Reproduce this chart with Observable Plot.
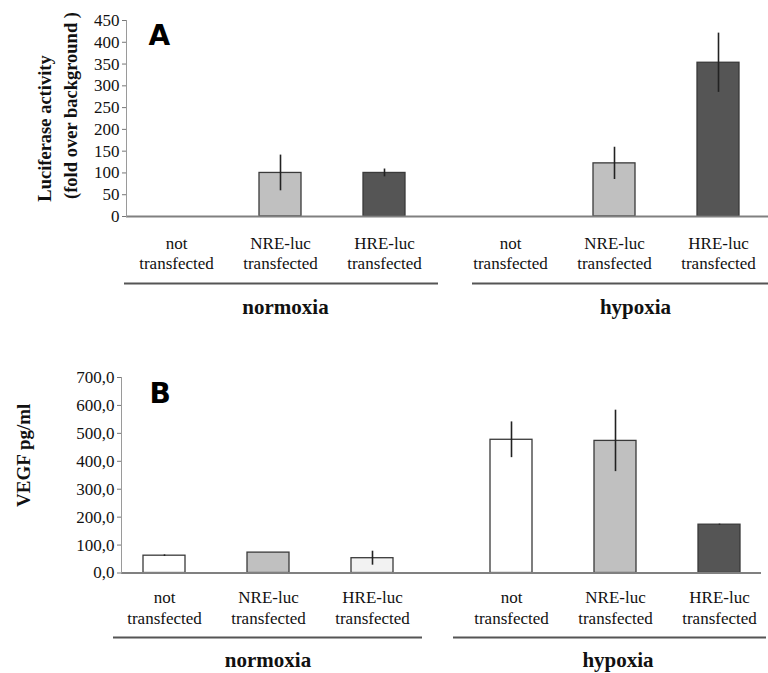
<!DOCTYPE html>
<html><head><meta charset="utf-8">
<script src="https://cdn.jsdelivr.net/npm/d3@7"></script>
<script src="https://cdn.jsdelivr.net/npm/@observablehq/plot@0.6"></script>
<style>
html,body{margin:0;padding:0;background:#fff;}
#chart{width:768px;}
#chart svg{display:block;}
</style></head><body><div id="chart"></div>
<script>
// ---- data ----
const conditions = ["normoxia", "hypoxia"];
const categories = ["not", "NRE", "HRE"];
const categoryLabels = ["not\ntransfected", "NRE-luc\ntransfected", "HRE-luc\ntransfected"];

const lucNormoxia = [0, 100, 100];
const lucNormoxiaErr = [0, 41, 9];
const lucHypoxia = [0, 122, 353];
const lucHypoxiaErr = [0, 37, 68];
const lucTicks = [0, 50, 100, 150, 200, 250, 300, 350, 400, 450];

const vegfNormoxia = [62, 73, 53];
const vegfNormoxiaErr = [3, 0, 25];
const vegfHypoxia = [477, 473, 173];
const vegfHypoxiaErr = [64, 110, 2];
const vegfTicks = [0, 100, 200, 300, 400, 500, 600, 700];

// ---- styles (kept apart from data) ----
const fillA = {"normoxia|NRE": "#c0c0c0", "normoxia|HRE": "#555555", "hypoxia|NRE": "#c0c0c0", "hypoxia|HRE": "#555555"};
const fillB = {"normoxia|not": "#ffffff", "normoxia|NRE": "#c0c0c0", "normoxia|HRE": "#f2f2f2",
               "hypoxia|not": "#ffffff", "hypoxia|NRE": "#c0c0c0", "hypoxia|HRE": "#555555"};
const labelOf = Object.fromEntries(categories.map((c, i) => [c, categoryLabels[i]]));

function rows(norm, normErr, hyp, hypErr) {
  const out = [];
  [[norm, normErr], [hyp, hypErr]].forEach(([v, e], i) =>
    categories.forEach((c, j) => out.push({cond: conditions[i], cat: c, value: v[j], err: e[j]})));
  return out;
}
const dataA = rows(lucNormoxia, lucNormoxiaErr, lucHypoxia, lucHypoxiaErr);
const dataB = rows(vegfNormoxia, vegfNormoxiaErr, vegfHypoxia, vegfHypoxiaErr);

const serif = "'Liberation Serif', 'Times New Roman', serif";
const ink = "#111";

function panel(o) {
  const one = (cond, extra) => [{cond, ...extra}];
  return Plot.plot({
    width: 768,
    height: o.height,
    marginTop: o.marginTop,
    marginBottom: o.marginBottom,
    marginLeft: o.marginLeft,
    marginRight: o.marginRight,
    style: {fontFamily: serif, fontSize: "17px", color: ink, background: "#fff"},
    fx: {domain: conditions, paddingInner: o.fxPad, paddingOuter: 0, axis: null, label: null},
    x: {domain: categories, paddingInner: 0.6, paddingOuter: o.xPadOuter, label: null},
    y: {domain: [0, o.yMax], label: null},
    color: {type: "identity"},
    marks: [
      Plot.barY(o.data.filter(d => d.value > 0), {
        fx: "cond", x: "cat", y: "value",
        fill: d => o.fills[d.cond + "|" + d.cat], stroke: "#3a3a3a", strokeWidth: 1.3
      }),
      Plot.ruleX(o.data.filter(d => d.err > 0), {
        fx: "cond", x: "cat", y1: d => d.value - d.err, y2: d => d.value + d.err,
        stroke: "#222", strokeWidth: 1.6
      }),
      // baseline (continuous across the gap between groups)
      Plot.ruleY(one("normoxia"), {fx: "cond", y: () => 0, insetRight: -o.gap, stroke: "#808080", strokeWidth: 2}),
      Plot.ruleY(one("hypoxia"), {fx: "cond", y: () => 0, stroke: "#808080", strokeWidth: 2}),
      // y axis
      Plot.frame({anchor: "left", facetAnchor: "left", stroke: "#9a9a9a", strokeWidth: 1}),
      Plot.axisY({ticks: o.ticks, tickFormat: o.fmt, tickSize: 4, tickPadding: 3, stroke: "#777", fill: ink, fontSize: o.tickFont, fontFamily: serif, label: null}),
      // category labels
      Plot.axisX({tickSize: 0, tickPadding: o.catPad, tickFormat: c => labelOf[c], lineHeight: 1.2, fill: ink, fontSize: 17, fontFamily: serif, label: null}),
      // group underline
      Plot.ruleY(one("normoxia"), {fx: "cond", y: () => 0, dy: o.lineDy, insetLeft: o.normInset[0], insetRight: o.normInset[1], stroke: "#555", strokeWidth: 2}),
      Plot.ruleY(one("hypoxia"), {fx: "cond", y: () => 0, dy: o.lineDy, insetLeft: o.hypInset[0], insetRight: o.hypInset[1], stroke: "#555", strokeWidth: 2}),
      // group labels
      Plot.text(one("normoxia", {t: "normoxia"}), {fx: "cond", text: "t", frameAnchor: "bottom", dy: o.groupDy, dx: o.groupDx[0], fontSize: 21, fontWeight: "bold", fontFamily: serif, lineAnchor: "middle", fill: ink}),
      Plot.text(one("hypoxia", {t: "hypoxia"}), {fx: "cond", text: "t", frameAnchor: "bottom", dy: o.groupDy, dx: o.groupDx[1], fontSize: 21, fontWeight: "bold", fontFamily: serif, lineAnchor: "middle", fill: ink}),
      // panel letter
      Plot.text(one("normoxia", {t: o.letter}), {fx: "cond", text: "t", frameAnchor: "top-left", dx: o.letterDx, dy: o.letterDy, textAnchor: "start", lineAnchor: "top", fontSize: 28, fontWeight: "bold", fontFamily: "'DejaVu Sans', 'Liberation Sans', sans-serif", fill: "#000"}),
      // y titles
      ...o.titles.map(t => Plot.text(one("normoxia", {t: t.text}), {fx: "cond", text: "t", frameAnchor: "left", rotate: -90, dx: t.dx, dy: t.dy, textAnchor: "middle", lineAnchor: "middle", fontSize: t.size, fontWeight: "bold", fontFamily: serif, fill: ink}))
    ]
  });
}

const chart = document.getElementById("chart");
chart.append(panel({
  data: dataA, fills: fillA, ticks: lucTicks, fmt: d => String(d), yMax: 450, tickFont: 17,
  height: 335, marginTop: 20, marginBottom: 119, marginLeft: 126, marginRight: 0,
  fxPad: 0.078, xPadOuter: 0.28, gap: 26, catPad: 18,
  lineDy: 67, normInset: [-2, -4], hypInset: [12, 0],
  groupDy: 91, groupDx: [5, 21],
  letter: "A", letterDx: 22, letterDy: 5,
  titles: [
    {text: "Luciferase activity", dx: -81, dy: 10, size: 18.5},
    {text: "(fold over background )", dx: -55, dy: -13, size: 18.5}
  ]
}));
chart.append(panel({
  data: dataB, fills: fillB, ticks: vegfTicks, fmt: d => d.toFixed(1).replace(".", ","), yMax: 700, tickFont: 17,
  height: 338, marginTop: 42, marginBottom: 100.5, marginLeft: 120, marginRight: 6,
  fxPad: 0.155, xPadOuter: 0.2, gap: 54, catPad: 16,
  lineDy: 64.5, normInset: [-8, -8], hypInset: [-15, -5],
  groupDy: 87, groupDx: [0, 3],
  letter: "B", letterDx: 28, letterDy: 6,
  titles: [
    {text: "VEGF pg/ml", dx: -98, dy: -20, size: 19}
  ]
}));
</script></body></html>
